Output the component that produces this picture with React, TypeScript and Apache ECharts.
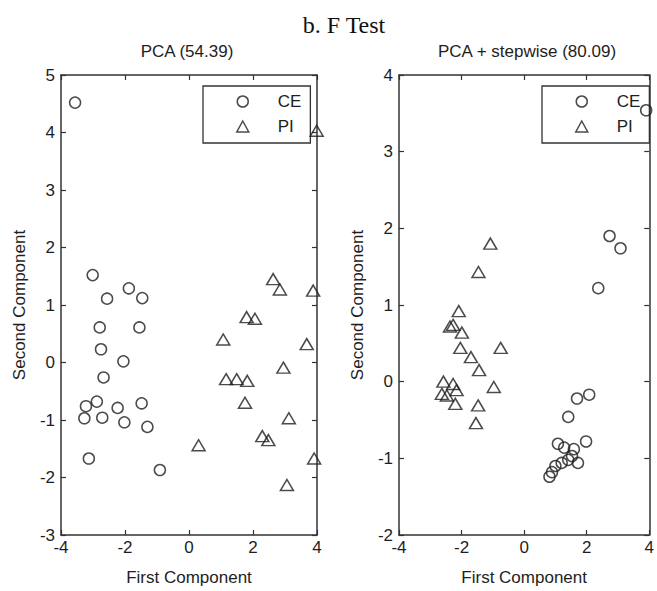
import React, { useEffect, useRef } from "react";
import * as echarts from "echarts";

// PCA scores (first, second component) per group
const pcaCE: number[][] = [
  [-3.56, 4.52], [-3.01, 1.52], [-2.56, 1.11], [-1.88, 1.29], [-1.46, 1.12],
  [-2.79, 0.61], [-1.55, 0.61], [-2.75, 0.23], [-2.05, 0.02], [-2.67, -0.26],
  [-3.22, -0.76], [-2.88, -0.68], [-2.23, -0.79], [-1.48, -0.71], [-3.27, -0.97],
  [-2.71, -0.96], [-2.02, -1.04], [-1.3, -1.12], [-3.13, -1.67], [-0.91, -1.87],
];
const pcaPI: number[][] = [
  [3.99, 4.03], [2.63, 1.45], [2.84, 1.27], [3.88, 1.25], [1.8, 0.79],
  [2.06, 0.76], [1.07, 0.4], [3.68, 0.32], [2.95, -0.09], [1.16, -0.29],
  [1.49, -0.29], [1.82, -0.32], [1.75, -0.7], [3.12, -0.97], [0.3, -1.44],
  [2.29, -1.28], [2.48, -1.35], [3.91, -1.67], [3.06, -2.13],
];

// PCA + stepwise selection scores
const stepCE: number[][] = [
  [3.9, 3.54], [2.73, 1.9], [3.08, 1.74], [2.37, 1.22], [1.69, -0.22],
  [2.08, -0.17], [1.41, -0.46], [1.98, -0.78], [1.08, -0.81], [1.28, -0.86],
  [1.59, -0.88], [1.53, -0.97], [1.41, -1.02], [1.72, -1.06], [1.2, -1.06],
  [1.0, -1.1], [0.89, -1.18], [0.81, -1.24],
];
const stepPI: number[][] = [
  [-1.08, 1.8], [-1.46, 1.43], [-2.09, 0.92], [-2.37, 0.72], [-2.27, 0.74],
  [-1.99, 0.64], [-2.04, 0.44], [-0.75, 0.44], [-1.7, 0.32], [-1.44, 0.15],
  [-0.97, -0.07], [-2.58, 0.0], [-2.27, -0.03], [-2.16, -0.11], [-2.63, -0.16],
  [-2.47, -0.18], [-2.2, -0.29], [-1.47, -0.31], [-1.54, -0.54],
];

const groupNames = ["CE", "PI"];
const mainTitle = "b. F Test";
const panelTitles = ["PCA (54.39)", "PCA + stepwise (80.09)"];
const xName = "First Component";
const yName = "Second Component";
const xRange = [-4, 4];
const yRangeLeft = [-3, 5];
const yRangeRight = [-2, 4];

const SANS = "'Liberation Sans', Arial, sans-serif";
const INK = "#1e1e1e";
const AXIS = "#333";

export default function App() {
  const ref = useRef<HTMLDivElement>(null);

  useEffect(() => {
    if (!ref.current) return;
    const chart = echarts.init(ref.current, undefined, { renderer: "svg" });

    const grids = [
      { left: 61, top: 75, width: 256, height: 469 },
      { left: 399, top: 75, width: 257, height: 469 },
    ];

    const tick = { show: true, inside: true, length: 5, lineStyle: { color: AXIS, width: 1.2 } };
    const line = { show: true, onZero: false, lineStyle: { color: AXIS, width: 1.5 } };
    const label = { color: INK, fontFamily: SANS, fontSize: 17 };

    const xAxes: any[] = [];
    const yAxes: any[] = [];
    const yRanges = [yRangeLeft, yRangeRight];
    [0, 1].forEach((g) => {
      xAxes.push({
        type: "value", gridIndex: g, position: "bottom", min: xRange[0], max: xRange[1], interval: 2,
        axisLine: line, axisTick: tick, splitLine: { show: false },
        axisLabel: { ...label, margin: 4 },
        name: xName, nameLocation: "middle", nameGap: 34,
        nameTextStyle: { color: INK, fontFamily: SANS, fontSize: 17 },
      });
      xAxes.push({
        type: "value", gridIndex: g, position: "top", min: xRange[0], max: xRange[1], interval: 2,
        axisLine: line, axisTick: tick, splitLine: { show: false }, axisLabel: { show: false },
      });
      yAxes.push({
        type: "value", gridIndex: g, position: "left", min: yRanges[g][0], max: yRanges[g][1], interval: 1,
        axisLine: line, axisTick: tick, splitLine: { show: false },
        axisLabel: { ...label, margin: 6 },
        name: yName, nameLocation: "middle", nameGap: 33,
        nameTextStyle: { color: INK, fontFamily: SANS, fontSize: 17 },
      });
      yAxes.push({
        type: "value", gridIndex: g, position: "right", min: yRanges[g][0], max: yRanges[g][1], interval: 1,
        axisLine: line, axisTick: tick, splitLine: { show: false }, axisLabel: { show: false },
      });
    });

    const hollow = { color: "rgba(0,0,0,0)", borderColor: INK, borderWidth: 1.5 };
    const mk = (name: string, data: number[][], g: number, tri: boolean) => ({
      type: "scatter",
      name,
      xAxisIndex: g * 2,
      yAxisIndex: g * 2,
      data,
      symbol: tri ? "triangle" : "circle",
      symbolSize: tri ? [13, 11] : 11,
      itemStyle: hollow,
      clip: false,
      z: 3,
    });

    const legendFor = (left: number) => ({
      orient: "vertical",
      left,
      top: 86,
      data: [
        { name: groupNames[0], icon: "circle" },
        { name: groupNames[1], icon: "triangle" },
      ],
      itemWidth: 12,
      itemHeight: 11,
      itemGap: 8,
      padding: [7, 9, 8, 33],
      backgroundColor: "#fff",
      borderColor: AXIS,
      borderWidth: 1.3,
      borderRadius: 0,
      selectedMode: false,
      itemStyle: { color: "rgba(0,0,0,0)", borderColor: INK, borderWidth: 1.5 },
      textStyle: { color: INK, fontFamily: SANS, fontSize: 17, lineHeight: 17, padding: [0, 0, 0, 24] },
      z: 2,
    });

    chart.setOption({
      animation: false,
      backgroundColor: "#fff",
      grid: grids,
      xAxis: xAxes,
      yAxis: yAxes,
      legend: [legendFor(203), legendFor(542)],
      series: [
        mk(groupNames[0], pcaCE, 0, false),
        mk(groupNames[1], pcaPI, 0, true),
        mk(groupNames[0], stepCE, 1, false),
        mk(groupNames[1], stepPI, 1, true),
      ],
      graphic: [
        {
          type: "text", x: 344, y: 25,
          style: { text: mainTitle, fill: "#111", font: "24px 'Liberation Serif', 'Times New Roman', serif", textAlign: "center", textVerticalAlign: "middle" },
        },
        {
          type: "text", x: 187, y: 51,
          style: { text: panelTitles[0], fill: INK, font: `17px ${SANS}`, textAlign: "center", textVerticalAlign: "middle" },
        },
        {
          type: "text", x: 527, y: 51,
          style: { text: panelTitles[1], fill: INK, font: `17px ${SANS}`, textAlign: "center", textVerticalAlign: "middle" },
        },
      ],
    });

    return () => chart.dispose();
  }, []);

  return (
    <div
      ref={ref}
      style={{ position: "absolute", left: 0, top: 0, width: 657, height: 591, background: "#fff" }}
    />
  );
}
